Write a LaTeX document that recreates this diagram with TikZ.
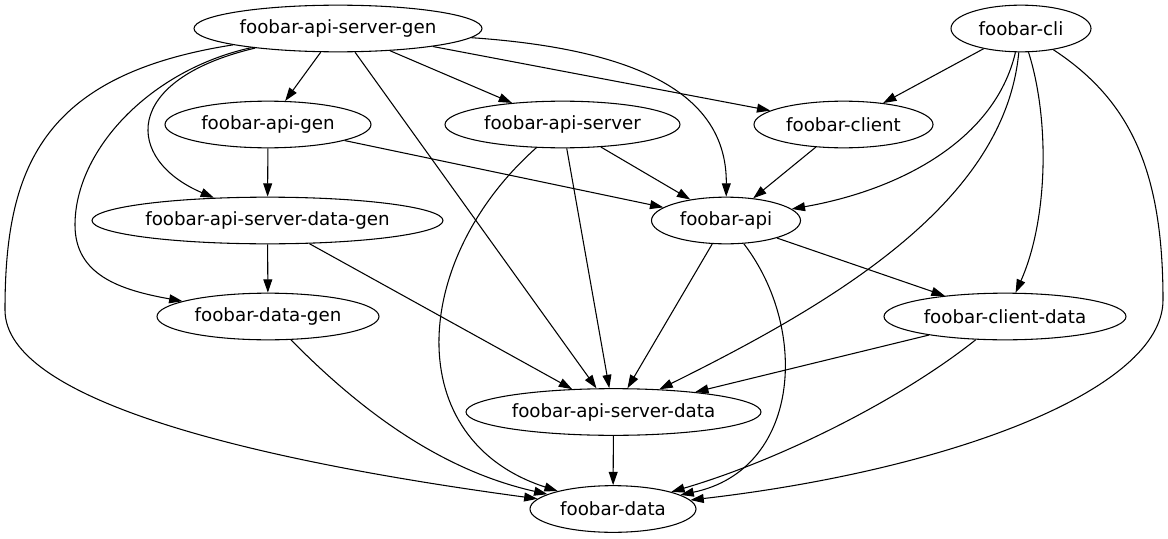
\documentclass[tikz,border=0pt]{standalone}
\usepackage{fontspec}
\setmainfont{DejaVu Sans}
\usetikzlibrary{shapes.geometric, arrows.meta}

\begin{document}
\begin{tikzpicture}[x=0.75pt, y=-0.75pt, thick, >={Triangle[length=10pt, width=6.7pt]}, main/.style = {draw, ellipse, inner sep=0pt, minimum height=35pt, font=\fontsize{13.7}{16}\selectfont}]
		\useasboundingbox (0,0) rectangle (1168,539);
		
		\node[main, minimum width=216pt] (1) at (338,28.5) {foobar-api-server-gen};
		\node[main, minimum width=105pt] (2) at (1021,28.5) {foobar-cli};
		
		\node[main, minimum width=154.5pt] (3) at (268,124.5) {foobar-api-gen};
		\node[main, minimum width=176.25pt] (4) at (562.5,124.5) {foobar-api-server};
		\node[main, minimum width=134.25pt] (5) at (843.5,124.5) {foobar-client};
		
		\node[main, minimum width=263.25pt] (6) at (267.5,220.5) {foobar-api-server-data-gen};
		\node[main, minimum width=111.75pt] (7) at (726,220.5) {foobar-api};
		
		\node[main, minimum width=166.5pt] (8) at (268,316.5) {foobar-data-gen};
		\node[main, minimum width=181.5pt] (9) at (1005,316.5) {foobar-client-data};
		
		\node[main, minimum width=221.25pt] (10) at (613.5,412) {foobar-api-server-data};
		
		\node[main, minimum width=124.5pt] (11) at (613,509) {foobar-data};
		
		
		\draw[->] (1) -- (3);
		\draw[->] (1) -- (4);
		\draw[->] (1) -- (5);
		\draw[->] (1) .. controls (650,50) and (727,100) .. (7);
		\draw[->] (1) -- (10);
		\draw[->] (1) .. controls (120,80) and (125,160) .. (6);
		\draw[->] (1) .. controls (150,70) and (75,150) .. (75,225) .. controls (75,275) and (120,290) .. (8);
		\draw[->] (1) .. controls (40,75) and (5,170) .. (5,310) .. controls (5,400) and (250,460) .. (11);
		
		\draw[->] (2) -- (5);
		\draw[->] (2) .. controls (995,140) and (900,190) .. (7);
		\draw[->] (2) .. controls (1005,200) and (840,300) .. (10);
		\draw[->] (2) .. controls (1050,120) and (1048,220) .. (9);
		\draw[->] (2) .. controls (1130,100) and (1163,170) .. (1163,300) .. controls (1163,390) and (950,470) .. (11);
		
		\draw[->] (3) -- (6);
		\draw[->] (3) -- (7);
		\draw[->] (4) -- (7);
		\draw[->] (4) -- (10);
		\draw[->] (4) .. controls (410,260) and (400,440) .. (11);
		\draw[->] (5) -- (7);
		
		\draw[->] (6) -- (8);
		\draw[->] (6) -- (10);
		\draw[->] (7) -- (10);
		\draw[->] (7) -- (9);
		\draw[->] (7) .. controls (810,330) and (800,470) .. (11);
		
		\draw[->] (8) .. controls (360,410) and (440,470) .. (11);
		\draw[->] (9) -- (10);
		\draw[->] (9) .. controls (900,400) and (780,460) .. (11);
		\draw[->] (10) -- (11);
		
	\end{tikzpicture}
\end{document}
